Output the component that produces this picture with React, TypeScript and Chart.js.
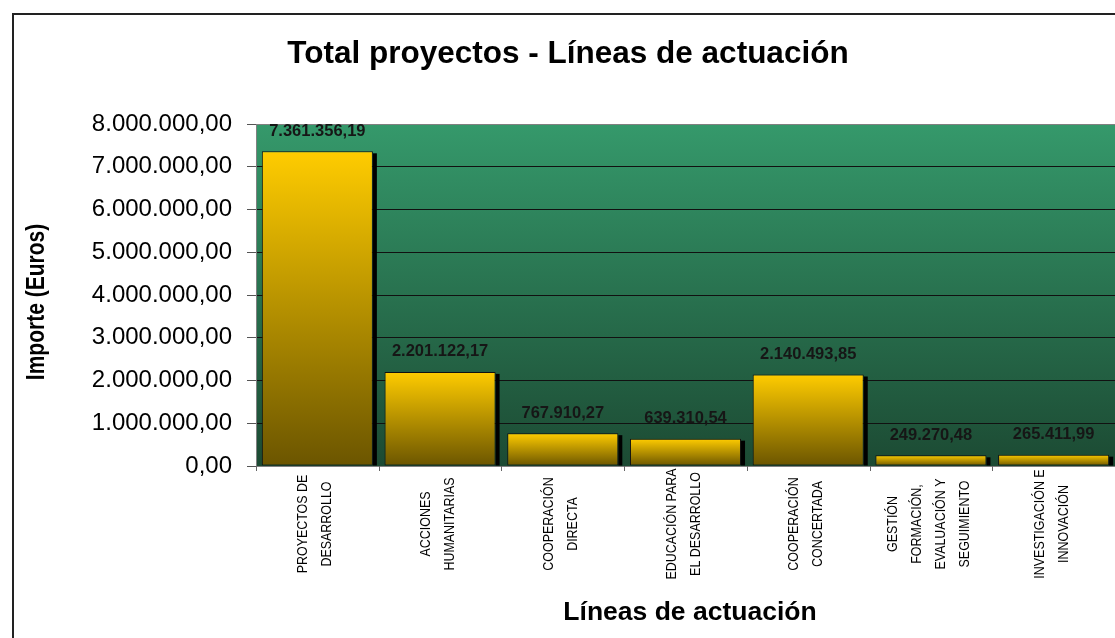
import React, { useEffect, useRef } from 'react';
import { Chart, registerables } from 'chart.js';

Chart.register(...registerables);

const chartTitle = 'Total proyectos - Líneas de actuación';
const xAxisTitle = 'Líneas de actuación';
const yAxisTitle = 'Importe (Euros)';

const categories: string[][] = [
  ['PROYECTOS DE', 'DESARROLLO'],
  ['ACCIONES', 'HUMANITARIAS'],
  ['COOPERACIÓN', 'DIRECTA'],
  ['EDUCACIÓN PARA', 'EL DESARROLLO'],
  ['COOPERACIÓN', 'CONCERTADA'],
  ['GESTIÓN', 'FORMACIÓN,', 'EVALUACIÓN Y', 'SEGUIMIENTO'],
  ['INVESTIGACIÓN E', 'INNOVACIÓN'],
];

const importes: number[] = [7361356.19, 2201122.17, 767910.27, 639310.54, 2140493.85, 249270.48, 265411.99];

const yMin = 0;
const yMax = 8000000;
const yStep = 1000000;

function formatEs(v: number): string {
  const fixed = Math.abs(v).toFixed(2);
  const [intPart, dec] = fixed.split('.');
  const grouped = intPart.replace(/\B(?=(\d{3})+(?!\d))/g, '.');
  return (v < 0 ? '-' : '') + grouped + ',' + dec;
}

const decorPlugin = {
  id: 'decor',
  beforeDraw(chart: any) {
    const { ctx, chartArea } = chart;
    ctx.save();
    ctx.fillStyle = '#ffffff';
    ctx.fillRect(0, 0, chart.width, chart.height);
    ctx.strokeStyle = '#222222';
    ctx.lineWidth = 2;
    ctx.strokeRect(13, 14, chart.width + 20, chart.height + 20);
    const g = ctx.createLinearGradient(0, chartArea.top, 0, chartArea.bottom);
    g.addColorStop(0, '#35996b');
    g.addColorStop(1, '#1c4a33');
    ctx.fillStyle = g;
    ctx.fillRect(chartArea.left, chartArea.top, chartArea.right - chartArea.left, chartArea.bottom - chartArea.top);
    ctx.restore();
  },
  beforeDatasetsDraw(chart: any) {
    const { ctx } = chart;
    const meta = chart.getDatasetMeta(0);
    ctx.save();
    ctx.fillStyle = '#000000';
    meta.data.forEach((bar: any) => {
      const right = bar.x + bar.width / 2;
      ctx.fillRect(right, bar.y + 2, 4, bar.base - bar.y - 2);
    });
    ctx.restore();
  },
  afterDatasetsDraw(chart: any) {
    const { ctx, chartArea } = chart;
    const meta = chart.getDatasetMeta(0);
    const xScale = chart.scales.x;
    ctx.save();
    ctx.fillStyle = '#161616';
    ctx.font = 'bold 16.5px "Liberation Sans", Arial, sans-serif';
    ctx.textAlign = 'center';
    ctx.textBaseline = 'alphabetic';
    meta.data.forEach((bar: any, i: number) => {
      ctx.fillText(formatEs(importes[i]), bar.x, bar.y - 15.5);
    });
    const n = categories.length;
    const catW = (chartArea.right - chartArea.left) / n;
    ctx.strokeStyle = '#666666';
    ctx.lineWidth = 1;
    for (let i = 0; i <= n; i++) {
      const x = Math.round(xScale.getPixelForValue(0) - catW / 2 + i * catW) + 0.5;
      ctx.beginPath();
      ctx.moveTo(x, chartArea.bottom);
      ctx.lineTo(x, chartArea.bottom + 5);
      ctx.stroke();
    }
    ctx.fillStyle = '#000000';
    ctx.font = '15px "Liberation Sans", Arial, sans-serif';
    ctx.textAlign = 'center';
    ctx.textBaseline = 'middle';
    categories.forEach((lines, i) => {
      const cx = xScale.getPixelForValue(i) - 2;
      lines.forEach((line, j) => {
        const lx = cx + (j - (lines.length - 1) / 2) * 24;
        ctx.save();
        ctx.translate(lx, 524);
        ctx.rotate(-Math.PI / 2);
        ctx.scale(0.83, 1);
        ctx.fillText(line, 0, 0);
        ctx.restore();
      });
    });
    ctx.fillStyle = '#000000';
    ctx.textAlign = 'center';
    ctx.textBaseline = 'alphabetic';
    ctx.font = 'bold 31.5px "Liberation Sans", Arial, sans-serif';
    ctx.fillText(chartTitle, 568, 63);
    ctx.font = 'bold 26.5px "Liberation Sans", Arial, sans-serif';
    ctx.fillText(xAxisTitle, 690, 620);
    ctx.save();
    ctx.translate(37, 302);
    ctx.rotate(-Math.PI / 2);
    ctx.scale(0.84, 1);
    ctx.textBaseline = 'middle';
    ctx.font = 'bold 25px "Liberation Sans", Arial, sans-serif';
    ctx.fillText(yAxisTitle, 0, 0);
    ctx.restore();
    ctx.restore();
  },
};

export default function App() {
  const canvasRef = useRef<HTMLCanvasElement | null>(null);

  useEffect(() => {
    if (!canvasRef.current) return;
    const chart = new Chart(canvasRef.current, {
      type: 'bar',
      data: {
        labels: categories.map((c) => c.join(' ')),
        datasets: [
          {
            data: importes,
            backgroundColor: (c: any) => {
              const chartRef = c.chart;
              const y = chartRef.scales && chartRef.scales.y;
              if (!y || c.dataIndex === undefined) return '#ffcc00';
              const top = y.getPixelForValue(importes[c.dataIndex]);
              const bottom = y.getPixelForValue(0);
              if (!isFinite(top) || !isFinite(bottom) || top === bottom) return '#ffcc00';
              const g = chartRef.ctx.createLinearGradient(0, top, 0, bottom);
              g.addColorStop(0, '#ffcc00');
              g.addColorStop(1, '#6b5500');
              return g;
            },
            borderColor: '#111111',
            borderWidth: 1,
            borderSkipped: false,
            categoryPercentage: 1,
            barPercentage: 0.905,
          },
        ],
      },
      options: {
        responsive: false,
        animation: false,
        devicePixelRatio: 1,
        layout: { padding: { top: 124, bottom: 172, left: 0, right: 0 } },
        plugins: {
          legend: { display: false },
          tooltip: { enabled: false },
          title: { display: false },
        },
        scales: {
          x: {
            display: false,
          },
          y: {
            min: yMin,
            max: yMax,
            afterFit: (scale: any) => {
              scale.width = 256;
            },
            ticks: {
              stepSize: yStep,
              padding: 15,
              color: '#000000',
              font: { family: '"Liberation Sans", Arial, sans-serif', size: 24 },
              callback: (v: any) => formatEs(Number(v)),
            },
            grid: {
              color: (c: any) => (c.tick && (c.tick.value === yMin || c.tick.value === yMax) ? '#808080' : '#111111'),
              lineWidth: 1,
              drawTicks: true,
              tickLength: 9,
              tickColor: '#555555',
            },
            border: { display: true, color: '#808080', width: 1 },
          },
        },
      },
      plugins: [decorPlugin],
    });
    return () => chart.destroy();
  }, []);

  return (
    <div style={{ position: 'absolute', left: 0, top: 0, width: 1115, height: 638 }}>
      <canvas ref={canvasRef} width={1115} height={638} style={{ width: 1115, height: 638, display: 'block' }} />
    </div>
  );
}
